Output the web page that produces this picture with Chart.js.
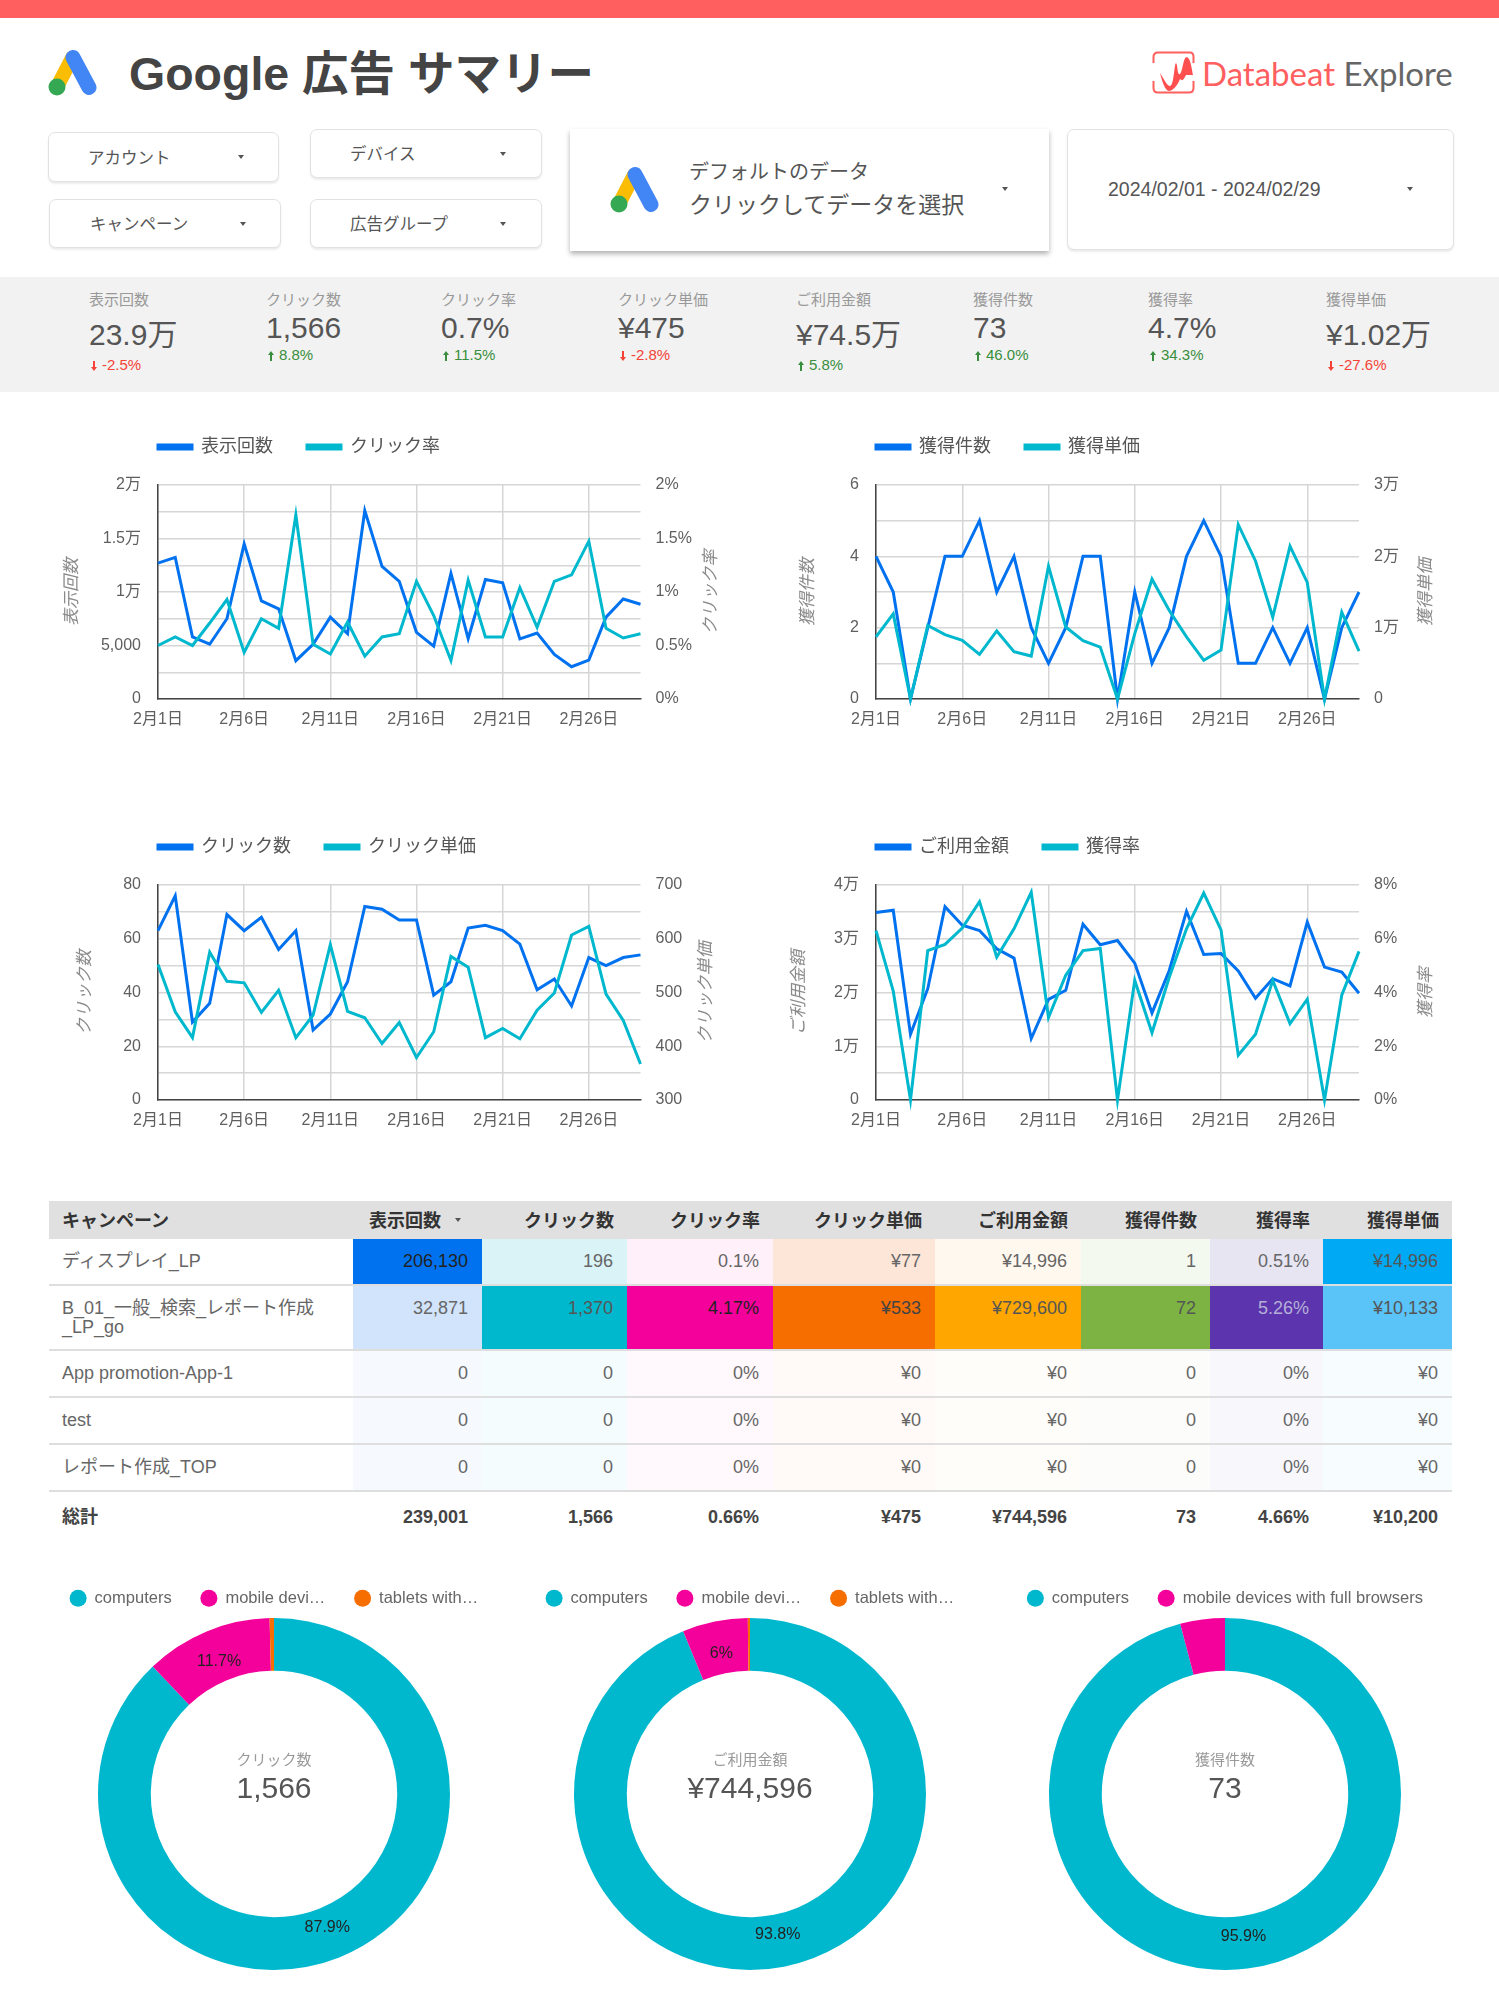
<!DOCTYPE html>
<html lang="ja">
<head>
<meta charset="utf-8">
<title>Google 広告 サマリー</title>
<script src="https://cdn.jsdelivr.net/npm/chart.js@4/dist/chart.umd.js"></script>
<style>
  html, body { margin: 0; padding: 0; background: #fff; }
  body { position: relative; width: 1499px; height: 1999px; overflow: hidden;
    font-family: "Liberation Sans", "Noto Sans CJK JP", sans-serif; color: #555; }
  .abs { position: absolute; white-space: nowrap; line-height: 1; }
  .mid { transform: translateY(-50%); }
  canvas { position: absolute; }
  .card { position: absolute; box-sizing: border-box; background: #fff; border: 1px solid #e2e2e2;
    border-radius: 7px; box-shadow: 0 2px 2px rgba(0,0,0,.08); }
  .tri { position: absolute; width: 0; height: 0; border-left: 3.5px solid transparent;
    border-right: 3.5px solid transparent; border-top: 4px solid #555; }
  table { position: absolute; left: 49px; top: 1201px; width: 1403px; border-collapse: collapse;
    table-layout: fixed; font-size: 18px; color: #666; }
  th { background: #e0e0e0; height: 38px; padding: 0 13px 2px; text-align: right; font-weight: 700; color: #333; box-sizing: border-box; }
  td { padding: 13px 14px 0; text-align: right; vertical-align: top; box-sizing: border-box;
    border-bottom: 2px solid #dedede; line-height: 19px; }
  th:first-child, td:first-child { text-align: left; padding-left: 13px; padding-right: 6px; }
  tr.total td { border-bottom: 0; font-weight: 700; color: #444; padding-top: 16px; }
</style>
</head>
<body>
<div class="abs" style="left:0;top:0;width:1499px;height:18px;background:#ff5f5f"></div>

<svg class="abs" style="left:47px;top:49px" width="52" height="48" viewBox="0 0 52 48">
  <line x1="25" y1="9" x2="10" y2="38" stroke="#fbbc04" stroke-width="14" stroke-linecap="round"/>
  <circle cx="10" cy="38" r="8.5" fill="#34a853"/>
  <line x1="26" y1="8.5" x2="42" y2="38.5" stroke="#4285f4" stroke-width="15" stroke-linecap="round"/>
</svg>
<div class="abs mid" style="left:129px;top:74px;font-size:46.5px;font-weight:700;color:#444">Google 広告 サマリー</div>

<svg class="abs" style="left:1152px;top:51px" width="44" height="43" viewBox="0 0 44 43">
  <path d="M1.5 12 V6 Q1.5 1.5 6 1.5 H38 Q41.5 1.5 41.5 6 V12 M41.5 30 V37 Q41.5 41.5 37 41.5 H6 Q1.5 41.5 1.5 37 V30" fill="none" stroke="#ff5f5f" stroke-width="2"/>
  <path d="M8 22 C12 28 15 35 18 35 C22 35 22 14 24 12 C26 14 25 25 28 23 C31 20 31 6 35 6 C39 8 40 20 41 24 L34 24 C31 30 30 30 28 28 C25 36 20 40 17 40 C13 40 10 30 8 22 Z" fill="#ff5050"/>
</svg>
<div class="abs mid" style="left:1202px;top:73px;font-size:33px;font-family:Lato,Roboto,sans-serif;font-weight:400"><span style="color:#ff5f5f">Databeat</span> <span style="color:#666">Explore</span></div>

<div id="filters"></div>

<div class="card" style="left:570px;top:129px;width:479px;height:122px;border:0;border-radius:0;box-shadow:0 3px 5px rgba(0,0,0,.3)"></div>
<svg class="abs" style="left:609px;top:166px" width="52" height="48" viewBox="0 0 52 48">
  <line x1="25" y1="9" x2="10" y2="38" stroke="#fbbc04" stroke-width="14" stroke-linecap="round"/>
  <circle cx="10" cy="38" r="8.5" fill="#34a853"/>
  <line x1="26" y1="8.5" x2="42" y2="38.5" stroke="#4285f4" stroke-width="15" stroke-linecap="round"/>
</svg>
<div class="abs mid" style="left:689px;top:172px;font-size:20px">デフォルトのデータ</div>
<div class="abs mid" style="left:689px;top:205px;font-size:23px">クリックしてデータを選択</div>
<div class="tri" style="left:1002px;top:187px"></div>
<div class="card" style="left:1067px;top:129px;width:387px;height:121px"></div>
<div class="abs mid" style="left:1108px;top:190px;font-size:19.5px">2024/02/01 - 2024/02/29</div>
<div class="tri" style="left:1407px;top:187px"></div>

<div class="abs" style="left:0;top:277px;width:1499px;height:115px;background:#f2f2f2"></div>
<div id="kpis"></div>

<canvas id="c1" width="680" height="335" style="left:48px;top:404px"></canvas>
<canvas id="c2" width="680" height="335" style="left:770px;top:404px"></canvas>
<canvas id="c3" width="680" height="336" style="left:48px;top:804px"></canvas>
<canvas id="c4" width="680" height="336" style="left:770px;top:804px"></canvas>

<table id="tbl"></table>

<canvas id="d1" width="500" height="409" style="left:24px;top:1561px"></canvas>
<canvas id="d2" width="500" height="409" style="left:500px;top:1561px"></canvas>
<canvas id="d3" width="500" height="409" style="left:975px;top:1561px"></canvas>

<script>
// daily series
const days = ["2月1日","2月2日","2月3日","2月4日","2月5日","2月6日","2月7日","2月8日","2月9日","2月10日",
  "2月11日","2月12日","2月13日","2月14日","2月15日","2月16日","2月17日","2月18日","2月19日","2月20日",
  "2月21日","2月22日","2月23日","2月24日","2月25日","2月26日","2月27日","2月28日","2月29日"];
const impressions = [12700,13240,5800,5120,7500,14500,9170,8430,3580,5120,7650,6110,17600,12400,11000,6230,4940,11730,5650,11170,10860,5620,6170,4170,3020,3640,7650,9350,8860];
const ctr = [0.50,0.58,0.50,0.71,0.93,0.435,0.75,0.66,1.72,0.51,0.42,0.72,0.40,0.58,0.61,1.10,0.78,0.36,1.11,0.58,0.58,1.04,0.67,1.10,1.16,1.475,0.66,0.57,0.61];
const conversions = [4,3,0,2,4,4,5,3,4,2,1,2,4,4,0,3,1,2,4,5,4,1,1,2,1,2,0,2,3];
const cpa = [8700,11940,0,10320,9030,8240,6250,9540,6620,6020,18610,10090,8190,7270,0,9170,16800,12400,8700,5420,6850,24440,19350,11480,21430,16340,0,12180,6710];
const clicks = [63,76,29,36,69,63,68,56,63,26,32,44,72,71,67,67,39,44,64,65,63,58,41,45,35,53,50,53,54];
const cpc = [552,464,416,575,521,518,463,504,416,458,589,465,453,405,444,379,427,567,547,416,433,414,467,499,607,623,497,448,367];
const spend = [34870,35300,12240,20710,35980,32520,31530,28130,26400,11440,18730,20400,32700,28870,29680,25470,16200,24100,35120,27080,27270,23990,18920,22570,21210,33080,24730,23800,19850];
const cvr = [6.3,4.05,0,5.56,5.79,6.4,7.38,5.32,6.37,7.73,3.07,4.64,5.56,5.64,0,4.45,2.5,4.57,6.37,7.7,6.33,1.67,2.45,4.45,2.84,3.75,0,3.9,5.53];

// scorecards
const kpiLabels = ["表示回数","クリック数","クリック率","クリック単価","ご利用金額","獲得件数","獲得率","獲得単価"];
const kpiValues = ["23.9万","1,566","0.7%","¥475","¥74.5万","73","4.7%","¥1.02万"];
const kpiDeltas = ["-2.5%","8.8%","11.5%","-2.8%","5.8%","46.0%","34.3%","-27.6%"];

// table
const tableHead = ["キャンペーン","表示回数","クリック数","クリック率","クリック単価","ご利用金額","獲得件数","獲得率","獲得単価"];
const tableRows = [
  ["ディスプレイ_LP","206,130","196","0.1%","¥77","¥14,996","1","0.51%","¥14,996"],
  ["B_01_一般_検索_レポート作成<br>_LP_go","32,871","1,370","4.17%","¥533","¥729,600","72","5.26%","¥10,133"],
  ["App promotion-App-1","0","0","0%","¥0","¥0","0","0%","¥0"],
  ["test","0","0","0%","¥0","¥0","0","0%","¥0"],
  ["レポート作成_TOP","0","0","0%","¥0","¥0","0","0%","¥0"]
];
const tableTotal = ["総計","239,001","1,566","0.66%","¥475","¥744,596","73","4.66%","¥10,200"];
const heatTop = ["#0072f0","#d9f3f6","#fff0f9","#fde5d8","#fff8ef","#f4f9ef","#e8e5f3","#00a9f4"];
const heatMid = ["#d2e4fb","#00b8ce","#f4009a","#f66d00","#ffa600","#7cb342","#5c35ae","#5ac3f8"];
const heatRest = ["#f6fafe","#f5fcfd","#fff8fc","#fffaf7","#fffdf9","#fcfdfa","#f8f7fc","#f7fcff"];
const inkTop = ["#222","#666","#666","#666","#666","#666","#666","#555"];
const inkMid = ["#666","#555","#222","#444","#555","#555","#b5afd6","#555"];

// device split
const deviceLabels3 = ["computers","mobile devi…","tablets with…"];
const deviceLabels2 = ["computers","mobile devices with full browsers"];
const clickShare = [87.9,11.7,0.4];
const spendShare = [93.8,6,0.2];
const convShare = [95.9,4.1];

const BLUE = "#0072f0", TEAL = "#00b8ce", GRID = "#d6d6d6", AXIS = "#444", TICK = "#5f5f5f";
const FONT = '"Liberation Sans", "Noto Sans CJK JP", sans-serif';
Chart.defaults.font.family = FONT;
Chart.defaults.animation = false;

// ---- page furniture
const filters = [["アカウント",48,132,231,50,88,238],["デバイス",310,129,232,49,350,500],["キャンペーン",49,199,232,49,90,240],["広告グループ",310,199,232,49,350,500]];
document.getElementById("filters").innerHTML = filters.map(f =>
  `<div class="card" style="left:${f[1]}px;top:${f[2]}px;width:${f[3]}px;height:${f[4]}px"></div>` +
  `<div class="abs mid" style="left:${f[5]}px;top:${f[2] + f[4] / 2 + 0.5}px;font-size:16.5px">${f[0]}</div>` +
  `<div class="tri" style="left:${f[6]}px;top:${f[2] + f[4] / 2 - 2}px"></div>`).join("");

const kpiX = [89,266,441,618,796,973,1148,1326];
document.getElementById("kpis").innerHTML = kpiLabels.map((l, i) => {
  const low = kpiValues[i].includes("万");
  const up = !kpiDeltas[i].startsWith("-");
  const col = up ? "#388e3c" : "#f44336";
  const arrow = up ? "M3 0 L6 4 L4 4 L4 10 L2 10 L2 4 L0 4 Z" : "M3 10 L6 6 L4 6 L4 0 L2 0 L2 6 L0 6 Z";
  return `<div class="abs mid" style="left:${kpiX[i]}px;top:299px;font-size:15px;color:#999">${l}</div>` +
    `<div class="abs mid" style="left:${kpiX[i]}px;top:${low ? 335 : 328}px;font-size:30px;color:#555">${kpiValues[i]}</div>` +
    `<svg class="abs" style="left:${kpiX[i] + 2}px;top:${(low ? 366 : 356) - 5}px" width="6" height="10"><path d="${arrow}" fill="${col}"/></svg>` +
    `<div class="abs mid" style="left:${kpiX[i] + 13}px;top:${low ? 364 : 354}px;font-size:15px;color:${col}">${kpiDeltas[i]}</div>`;
}).join("");

const colWidths = [304,129,145,146,162,146,129,113,129];
const rowHeights = [46,65,47,47,47];
let html = "<colgroup>" + colWidths.map(w => `<col style="width:${w}px">`).join("") + "</colgroup><tr>";
tableHead.forEach((h, i) => {
  html += i === 1
    ? `<th style="padding-right:41px;position:relative">${h}<span class="tri" style="right:21px;top:17px"></span></th>`
    : `<th>${h}</th>`;
});
html += "</tr>";
tableRows.forEach((r, ri) => {
  const heat = ri === 0 ? heatTop : ri === 1 ? heatMid : heatRest;
  const ink = ri === 0 ? inkTop : ri === 1 ? inkMid : null;
  html += `<tr style="height:${rowHeights[ri]}px">` + r.map((c, i) =>
    i === 0 ? `<td>${c}</td>` : `<td style="background:${heat[i - 1]}${ink ? ";color:" + ink[i - 1] : ""}">${c}</td>`).join("") + "</tr>";
});
html += `<tr class="total" style="height:52px">` + tableTotal.map(c => `<td>${c}</td>`).join("") + "</tr>";
document.getElementById("tbl").innerHTML = html;

// ---- plugins
// fixed legend block height, and start the legend where the plot starts
const legendPlace = {
  id: "legendPlace",
  beforeInit(chart) {
    const fit = chart.legend.fit;
    const h = chart.options.plugins.legendPlace.height;
    chart.legend.fit = function () { fit.call(chart.legend); this.height = h; };
  },
  afterLayout(chart) {
    const legend = chart.options.plugins.legend;
    if (legend.align === "start") chart.legend.left = chart.chartArea.left - legend.labels.padding;
  }
};
// both axis titles read bottom to top, which scale titles can't do on the right axis
const sideTitles = {
  id: "sideTitles",
  afterDraw(chart, args, o) {
    const { ctx, chartArea: a } = chart, y = (a.top + a.bottom) / 2;
    [[o.left, a.left - o.leftGap], [o.right, a.right + o.rightGap]].forEach(([t, x]) => {
      ctx.save();
      ctx.translate(x, y);
      ctx.rotate(-Math.PI / 2);
      ctx.font = "italic 17px " + FONT;
      ctx.fillStyle = "#8a8a8a";
      ctx.textAlign = "center";
      ctx.textBaseline = "middle";
      ctx.fillText(t, 0, 0);
      ctx.restore();
    });
  }
};
const ringText = {
  id: "ringText",
  afterDraw(chart, args, o) {
    const { ctx, chartArea: a } = chart, cx = (a.left + a.right) / 2, cy = (a.top + a.bottom) / 2;
    ctx.save();
    ctx.textAlign = "center";
    ctx.textBaseline = "middle";
    ctx.font = "15px " + FONT;
    ctx.fillStyle = "#999";
    ctx.fillText(o.title, cx, cy - 33);
    ctx.font = "30px " + FONT;
    ctx.fillStyle = "#555";
    ctx.fillText(o.value, cx, cy - 4);
    ctx.font = "16px " + FONT;
    ctx.fillStyle = "#222";
    const values = chart.data.datasets[0].data;
    chart.getDatasetMeta(0).data.forEach((arc, i) => {
      if (values[i] < 5) return;
      const p = arc.tooltipPosition();
      ctx.fillText(values[i] + "%", cx + (p.x - cx) * 0.96, cy + (p.y - cy) * 0.96);
    });
    ctx.restore();
  }
};

const man = v => v >= 10000 ? (v / 10000) + "万" : v.toLocaleString("en-US");
const pct = v => v + "%";

function lineChart(id, c) {
  new Chart(document.getElementById(id), {
    type: "line",
    data: {
      labels: days,
      datasets: [
        { label: c.leftName, data: c.leftData, yAxisID: "y", borderColor: BLUE, backgroundColor: BLUE, order: 2 },
        { label: c.rightName, data: c.rightData, yAxisID: "y1", borderColor: TEAL, backgroundColor: TEAL, order: 1 }
      ]
    },
    options: {
      responsive: false,
      layout: { padding: 0 },
      elements: { line: { borderWidth: 3, tension: 0, borderJoinStyle: "miter" }, point: { radius: 0 } },
      datasets: { line: { clip: false } },
      plugins: {
        tooltip: { enabled: false },
        legend: {
          align: "start",
          labels: { boxWidth: 34, boxHeight: 4, padding: 34, color: "#555", font: { size: 18 },
            sort: (a, b) => a.datasetIndex - b.datasetIndex }
        },
        legendPlace: { height: 81 },
        sideTitles: { left: c.leftName, right: c.rightName, leftGap: c.leftGap, rightGap: c.rightGap }
      },
      scales: {
        x: {
          afterFit: s => { s.height = 40; },
          border: { color: AXIS, width: 1.5 },
          grid: { drawTicks: false, lineWidth: 1.5, color: ctx => ctx.index % 5 === 0 ? GRID : "transparent" },
          ticks: { autoSkip: false, maxRotation: 0, padding: 11, color: TICK, font: { size: 16 },
            callback: (v, i) => i % 5 === 0 ? days[i] : "" }
        },
        y: {
          position: "left",
          min: 0, max: c.leftMax,
          afterFit: s => { s.width = c.leftWidth; },
          border: { color: AXIS, width: 1.5 },
          grid: { drawTicks: false, lineWidth: 1.5, color: GRID },
          ticks: { stepSize: c.leftStep, padding: 17, color: TICK, font: { size: 16 },
            callback: v => v % c.leftLabelStep === 0 ? c.leftFmt(v) : "" }
        },
        y1: {
          position: "right",
          min: c.rightMin || 0, max: c.rightMax,
          afterFit: s => { s.width = c.rightWidth; },
          border: { display: false },
          grid: { display: false, drawTicks: false },
          ticks: { stepSize: c.rightStep, padding: 15, color: TICK, font: { size: 16 }, callback: c.rightFmt }
        }
      }
    },
    plugins: [legendPlace, sideTitles]
  });
}

lineChart("c1", { leftName: "表示回数", rightName: "クリック率", leftData: impressions, rightData: ctr,
  leftMax: 20000, leftStep: 2500, leftLabelStep: 5000, leftFmt: man, rightMax: 2, rightStep: 0.5, rightFmt: pct,
  leftWidth: 110, rightWidth: 87.5, leftGap: 86, rightGap: 71 });
lineChart("c2", { leftName: "獲得件数", rightName: "獲得単価", leftData: conversions, rightData: cpa,
  leftMax: 6, leftStep: 1, leftLabelStep: 2, leftFmt: man, rightMax: 30000, rightStep: 10000, rightFmt: man,
  leftWidth: 106, rightWidth: 91, leftGap: 68, rightGap: 67 });
lineChart("c3", { leftName: "クリック数", rightName: "クリック単価", leftData: clicks, rightData: cpc,
  leftMax: 80, leftStep: 10, leftLabelStep: 20, leftFmt: man, rightMin: 300, rightMax: 700, rightStep: 100, rightFmt: man,
  leftWidth: 110, rightWidth: 87.5, leftGap: 73, rightGap: 66 });
lineChart("c4", { leftName: "ご利用金額", rightName: "獲得率", leftData: spend, rightData: cvr,
  leftMax: 40000, leftStep: 5000, leftLabelStep: 10000, leftFmt: man, rightMax: 8, rightStep: 2, rightFmt: pct,
  leftWidth: 106, rightWidth: 91, leftGap: 77, rightGap: 67 });

function ringChart(id, labels, share, title, value) {
  new Chart(document.getElementById(id), {
    type: "doughnut",
    data: {
      labels: labels,
      datasets: [{ data: share, backgroundColor: ["#00b8ce", "#f4009a", "#f66d00"], borderWidth: 0 }]
    },
    options: {
      responsive: false,
      cutout: "70%",
      layout: { padding: 0 },
      plugins: {
        tooltip: { enabled: false },
        legend: {
          align: "center",
          labels: { usePointStyle: true, pointStyle: "circle", boxHeight: 12, padding: 29, color: "#666", font: { size: 16.5 } }
        },
        legendPlace: { height: 57 },
        ringText: { title: title, value: value }
      }
    },
    plugins: [legendPlace, ringText]
  });
}

ringChart("d1", deviceLabels3, clickShare, "クリック数", "1,566");
ringChart("d2", deviceLabels3, spendShare, "ご利用金額", "¥744,596");
ringChart("d3", deviceLabels2, convShare, "獲得件数", "73");
</script>
</body>
</html>
